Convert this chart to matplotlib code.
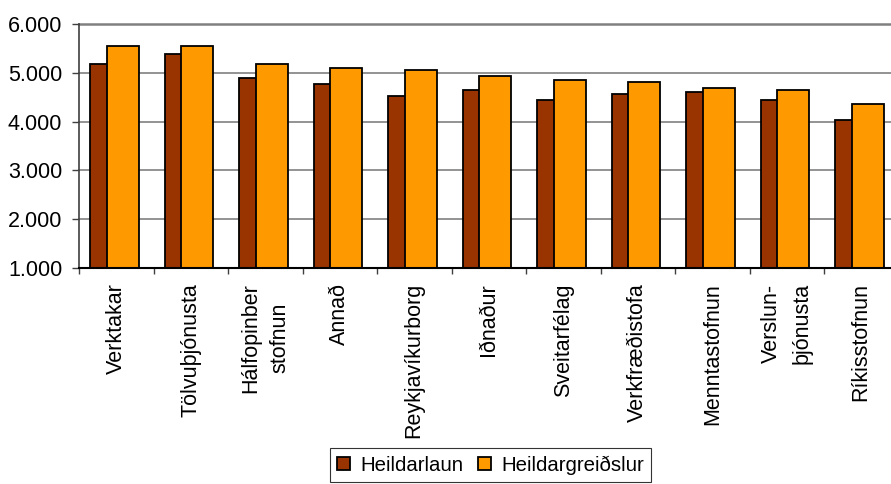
import matplotlib
matplotlib.use("Agg")
import matplotlib.pyplot as plt
from matplotlib.ticker import FuncFormatter, FixedLocator
import numpy as np

categories = ["Verktakar", "Tölvuþjónusta", "Hálfopinber\nstofnun", "Annað",
              "Reykjavíkurborg", "Iðnaður", "Sveitarfélag", "Verkfræðistofa",
              "Menntastofnun", "Verslun-\nþjónusta", "Ríkisstofnun"]
heildarlaun = [5180, 5385, 4893, 4770, 4518, 4648, 4443, 4566, 4607, 4443, 4033]
heildargreidslur = [5549, 5550, 5180, 5098, 5057, 4934, 4852, 4811, 4689, 4648, 4361]
series_names = ["Heildarlaun", "Heildargreiðslur"]
yticks = [1000, 2000, 3000, 4000, 5000, 6000]

plt.rcParams['font.family'] = ['Liberation Sans', 'DejaVu Sans']

fig = plt.figure(figsize=(8.91, 4.84), dpi=100)
ax = fig.add_axes([79/891, 1-268/484, 1-79/891, (268-24)/484])

x = np.arange(len(categories))
w = 0.43
ax.bar(x - 0.135, heildarlaun, width=w, bottom=0, color="#993300",
       edgecolor="black", linewidth=1.3, zorder=3, label=series_names[0])
ax.bar(x + 0.085, heildargreidslur, width=w, bottom=0, color="#FF9900",
       edgecolor="black", linewidth=1.3, zorder=4, label=series_names[1])

ax.set_ylim(1000, 6000)
ax.set_xlim(-0.5, (891-79)/74.5 - 0.5)
ax.set_yticks(yticks)
ax.yaxis.set_major_formatter(FuncFormatter(lambda v, p: f"{int(v):,}".replace(",", ".")))
for yv in yticks[1:]:
    ax.axhline(yv, color="#808080", linewidth=1.8 if yv == 6000 else 1.2,
               zorder=1, clip_on=False)

ax.xaxis.set_major_locator(FixedLocator(np.arange(-0.5, len(categories), 1.0)))
ax.set_xticklabels([])
for xi, lab in zip(x, categories):
    ax.text(xi, -0.062, lab, transform=ax.get_xaxis_transform(), rotation=90,
            ha="center", va="top", fontsize=15.5, linespacing=1.55,
            rotation_mode="default")

for s in ["top", "right"]:
    ax.spines[s].set_visible(False)
ax.spines["left"].set_color("#404040")
ax.spines["left"].set_linewidth(1.2)
ax.spines["bottom"].set_color("black")
ax.spines["bottom"].set_linewidth(1.5)
ax.spines["bottom"].set_zorder(5)
ax.tick_params(axis="y", direction="out", length=5, width=1, color="#404040",
               labelsize=15.5, pad=7)
ax.tick_params(axis="x", direction="out", length=4.5, width=1, color="#404040")

leg = fig.legend(loc="center", bbox_to_anchor=(490.5/891, 1-465/484), ncol=2,
                 fontsize=14.7, frameon=True, fancybox=False, edgecolor="black",
                 handlelength=0.64, handleheight=0.64, handletextpad=0.47,
                 columnspacing=0.74, borderpad=0.35, borderaxespad=0)
leg.get_frame().set_linewidth(0.8)

fig.savefig("out.png", dpi=100)
